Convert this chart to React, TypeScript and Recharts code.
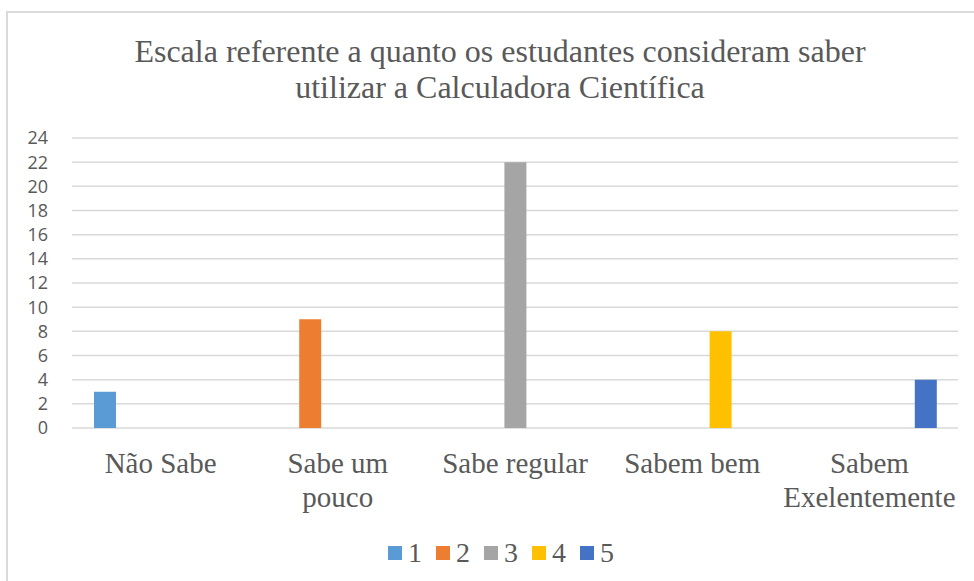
import { BarChart, Bar, XAxis, YAxis, CartesianGrid } from "recharts";

const categories = [
    "Não Sabe",
    "Sabe um\npouco",
    "Sabe regular",
    "Sabem bem",
    "Sabem\nExelentemente",
];

// one series per answer, only its own category has a value
const serie1 = [3, 0, 0, 0, 0];
const serie2 = [0, 9, 0, 0, 0];
const serie3 = [0, 0, 22, 0, 0];
const serie4 = [0, 0, 0, 8, 0];
const serie5 = [0, 0, 0, 0, 4];

const seriesNames = ["1", "2", "3", "4", "5"];
const seriesColors = ["#5B9BD5", "#ED7D31", "#A5A5A5", "#FFC000", "#4472C4"];
const yTicks = [0, 2, 4, 6, 8, 10, 12, 14, 16, 18, 20, 22, 24];

const titleLines = [
    "Escala referente a quanto os estudantes consideram saber",
    "utilizar a Calculadora Científica",
];

const data = categories.map((name, i) => ({
    name,
    s1: serie1[i],
    s2: serie2[i],
    s3: serie3[i],
    s4: serie4[i],
    s5: serie5[i],
}));

const serif = "Liberation Serif, DejaVu Serif, serif";
const textColor = "#595959";

const CategoryTick = (props: any) => {
    const { x, y, payload } = props;
    const lines = String(payload.value).split("\n");
    return (
        <text
            x={x}
            y={y}
            textAnchor="middle"
            fill={textColor}
            style={{ fontFamily: serif, fontSize: 29 }}
        >
            {lines.map((line: string, i: number) => (
                <tspan key={i} x={x} dy={i === 0 ? 45 : 34}>
                    {line}
                </tspan>
            ))}
        </text>
    );
};

const App = () => {
    return (
        <div
            style={{
                position: "absolute",
                left: 0,
                top: 0,
                width: 974,
                height: 581,
                overflow: "hidden",
                background: "#fff",
            }}
        >
            <div
                style={{
                    position: "absolute",
                    left: 6,
                    top: 11,
                    width: 1000,
                    height: 600,
                    borderLeft: "2px solid #DADADA",
                    borderTop: "2px solid #DADADA",
                }}
            />
            <div
                style={{
                    position: "absolute",
                    left: 0,
                    top: 33,
                    width: 1000,
                    textAlign: "center",
                    fontFamily: serif,
                    fontSize: 32,
                    lineHeight: "36px",
                    color: textColor,
                }}
            >
                {titleLines.map((line) => (
                    <div key={line}>{line}</div>
                ))}
            </div>
            <div style={{ position: "absolute", left: 0, top: 0 }}>
                <BarChart
                    width={974}
                    height={581}
                    data={data}
                    margin={{ top: 138, right: 16, bottom: 0, left: 0 }}
                    barSize={22}
                    barGap={6}
                >
                    <CartesianGrid vertical={false} stroke="#D9D9D9" strokeWidth={1.5} />
                    <XAxis
                        dataKey="name"
                        height={153}
                        axisLine={false}
                        tickLine={false}
                        tickSize={0}
                        tickMargin={0}
                        interval={0}
                        tick={<CategoryTick />}
                    />
                    <YAxis
                        width={72}
                        domain={[0, 24]}
                        ticks={yTicks}
                        interval={0}
                        axisLine={false}
                        tickLine={false}
                        tickSize={0}
                        tickMargin={24}
                        tick={{
                            fill: textColor,
                            fontSize: 18,
                            fontFamily: "Open Sans, sans-serif",
                        }}
                    />
                    {["s1", "s2", "s3", "s4", "s5"].map((key, i) => (
                        <Bar
                            key={key}
                            dataKey={key}
                            name={seriesNames[i]}
                            fill={seriesColors[i]}
                            isAnimationActive={false}
                        />
                    ))}
                </BarChart>
            </div>
            <div
                style={{
                    position: "absolute",
                    left: 388,
                    top: 536,
                    display: "flex",
                    alignItems: "center",
                    fontFamily: serif,
                    fontSize: 28,
                    lineHeight: "34px",
                    color: textColor,
                }}
            >
                {seriesNames.map((name, i) => (
                    <div
                        key={name}
                        style={{ display: "flex", alignItems: "center", marginRight: 14 }}
                    >
                        <span
                            style={{
                                display: "inline-block",
                                width: 14,
                                height: 14,
                                background: seriesColors[i],
                                marginRight: 6,
                            }}
                        />
                        <span>{name}</span>
                    </div>
                ))}
            </div>
        </div>
    );
};

export default App;
